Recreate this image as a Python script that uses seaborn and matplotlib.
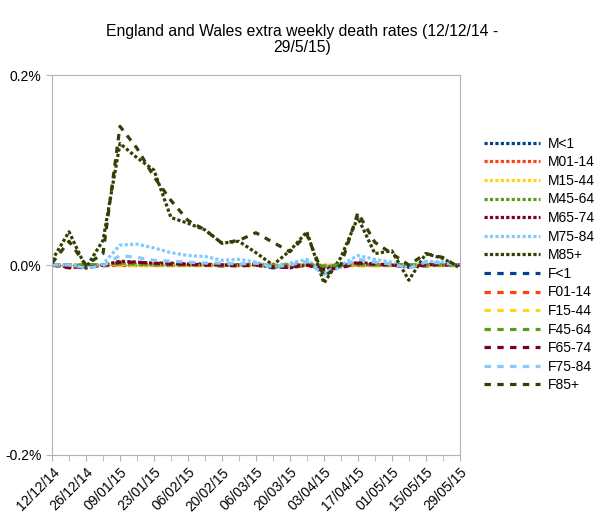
import seaborn as sns
import pandas as pd
import matplotlib.pyplot as plt
import numpy as np

# weekly dates, 12/12/14 to 29/05/15
dates = pd.date_range("2014-12-12", "2015-05-29", freq="7D")
week_labels = [d.strftime("%d/%m/%y") for d in dates]

m_lt1 = [0, 0, -0.00001, 0, 0.00001, 0, 0, 0.00001, 0, 0, 0, 0, 0, -0.00002, -0.00002, 0, -0.00002, 0, 0, 0, 0, -0.00001, 0, 0, 0]
m01_14 = [0, 0, 0, 0, 0, 0, 0, 0, 0, 0, 0, 0, 0, 0, 0, 0, 0, 0, 0, 0, 0, 0, 0, 0, 0]
m15_44 = [0, 0, 0, 0, 0.00001, 0, 0, 0, 0, 0, 0, 0, 0, 0, 0, 0, 0, 0, 0, 0, 0, 0, 0, 0, 0]
m45_64 = [0, 0, -0.00001, 0, 0.00002, 0.00001, 0.00001, 0, 0, 0, 0, 0, 0, -0.00001, 0, 0, -0.00002, 0, 0.00001, 0, 0, -0.00001, 0, 0, 0]
m65_74 = [0, -0.00002, -0.00003, 0, 0.00004, 0.00003, 0.00002, 0.00002, 0.00001, 0.00001, 0, 0, 0.00001, -0.00001, -0.00003, 0, -0.00004, -0.00002, 0.00003, 0.00001, 0, -0.00002, 0.00001, 0, 0]
m75_84 = [0, 0, -0.00002, 0.00001, 0.00021, 0.00022, 0.00018, 0.00013, 0.0001, 0.00009, 0.00005, 0.00006, 0.00003, -0.00002, 0.00002, 0.00006, -0.00008, 0, 0.0001, 0.00006, 0.00003, -0.00003, 0.00004, 0.00003, 0]
m85 = [0.00005, 0.00035, -0.00003, 0.00026, 0.00128, 0.00113, 0.001, 0.0005, 0.00044, 0.00037, 0.00023, 0.00025, 0.00013, 0, 0.00015, 0.00035, -0.00019, 0.00008, 0.0005, 0.00012, 0.00015, -0.00016, 0.00012, 0.00007, -0.00003]
f_lt1 = [0, -0.00001, 0, 0, 0, 0.00001, 0, 0, 0, 0, -0.00001, 0, 0, -0.00003, -0.00002, 0, -0.00001, 0, 0, 0, 0, 0, -0.00001, 0, 0]
f01_14 = [0, 0, 0, 0, 0, 0, 0, 0, 0, 0, 0, 0, 0, 0, 0, 0, 0, 0, 0, 0, 0, 0, 0, 0, 0]
f15_44 = [0, 0, 0, 0, 0, 0, 0, 0, 0, 0, 0, 0, 0, 0, 0, 0, 0, 0, 0, 0, 0, 0, 0, 0, 0]
f45_64 = [0, 0, 0, 0, 0.00001, 0.00001, 0, 0, 0, 0, 0, 0, 0, 0, 0, 0, -0.00001, 0, 0, 0, 0, 0, 0, 0, 0]
f65_74 = [0, -0.00003, -0.00002, -0.00001, 0.00003, 0.00003, 0.00002, 0.00001, 0.00001, 0, 0, -0.00001, 0, -0.00002, -0.00002, 0, -0.00005, -0.00003, 0.00002, 0.00001, 0, -0.00002, 0, 0.00001, 0]
f75_84 = [0, 0, -0.00003, -0.00001, 0.0001, 0.00008, 0.00005, 0.00004, 0.00003, 0.00002, 0.00002, 0.00001, 0.00002, -0.00002, 0, 0.00004, -0.0001, -0.00002, 0.00006, 0.00003, 0.00001, -0.00003, 0.00003, 0.00002, 0]
f85 = [0.00002, 0.00025, 0, 0.00012, 0.00146, 0.00123, 0.00093, 0.00068, 0.00047, 0.00037, 0.00023, 0.00026, 0.00034, 0.00024, 0.00014, 0.00032, -0.00012, 0, 0.00055, 0.00024, 0.00012, 0, 0.00012, 0.00008, -0.00003]

series = [
    ("M<1", m_lt1), ("M01-14", m01_14), ("M15-44", m15_44), ("M45-64", m45_64),
    ("M65-74", m65_74), ("M75-84", m75_84), ("M85+", m85),
    ("F<1", f_lt1), ("F01-14", f01_14), ("F15-44", f15_44), ("F45-64", f45_64),
    ("F65-74", f65_74), ("F75-84", f75_84), ("F85+", f85),
]
# LibreOffice default chart colours
palette = ["#004586", "#ff420e", "#ffd320", "#579d1c", "#7e0021", "#83caff", "#314004"]

plt.rcParams["font.family"] = ["Liberation Sans", "DejaVu Sans"]
fig = plt.figure(figsize=(6.05, 5.29), dpi=100)
ax = fig.add_axes([0.086, 0.14, 0.674, 0.718])

x = np.arange(len(dates))
ax.axhline(0, color="#b3b3b3", lw=0.8, zorder=0)
for i, (name, vals) in enumerate(series):
    ls = (0, (1, 0.7)) if name.startswith("M") else (0, (2, 2))
    sns.lineplot(x=x, y=vals, ax=ax, color=palette[i % 7], linestyle=ls,
                 lw=2.3, label=name, dash_capstyle="butt")

ax.set_xlim(0, len(dates) - 1)
ax.set_ylim(-0.002, 0.002)
ax.set_yticks([-0.002, 0, 0.002])
ax.set_yticklabels(["-0.2%", "0.0%", "0.2%"], fontsize=10)
ax.set_xticks(x, minor=True)
ax.set_xticks(x[::2])
ax.set_xticklabels(week_labels[::2], rotation=45, ha="right", rotation_mode="anchor", fontsize=10)
ax.tick_params(which="both", color="#b3b3b3", length=4)
for s in ax.spines.values():
    s.set_color("#b3b3b3")

fig.suptitle("England and Wales extra weekly death rates (12/12/14 -\n29/5/15)",
             x=0.5, y=0.955, fontsize=11.3, linespacing=1.1)

ax.get_legend().remove()
h, l = ax.get_legend_handles_labels()
fig.legend(h, l, loc="center left", bbox_to_anchor=(0.80, 0.5), frameon=False,
           fontsize=10, handlelength=4, handletextpad=0.6, labelspacing=0.33,
           borderpad=0, borderaxespad=0)

fig.savefig("out.png", dpi=100)
